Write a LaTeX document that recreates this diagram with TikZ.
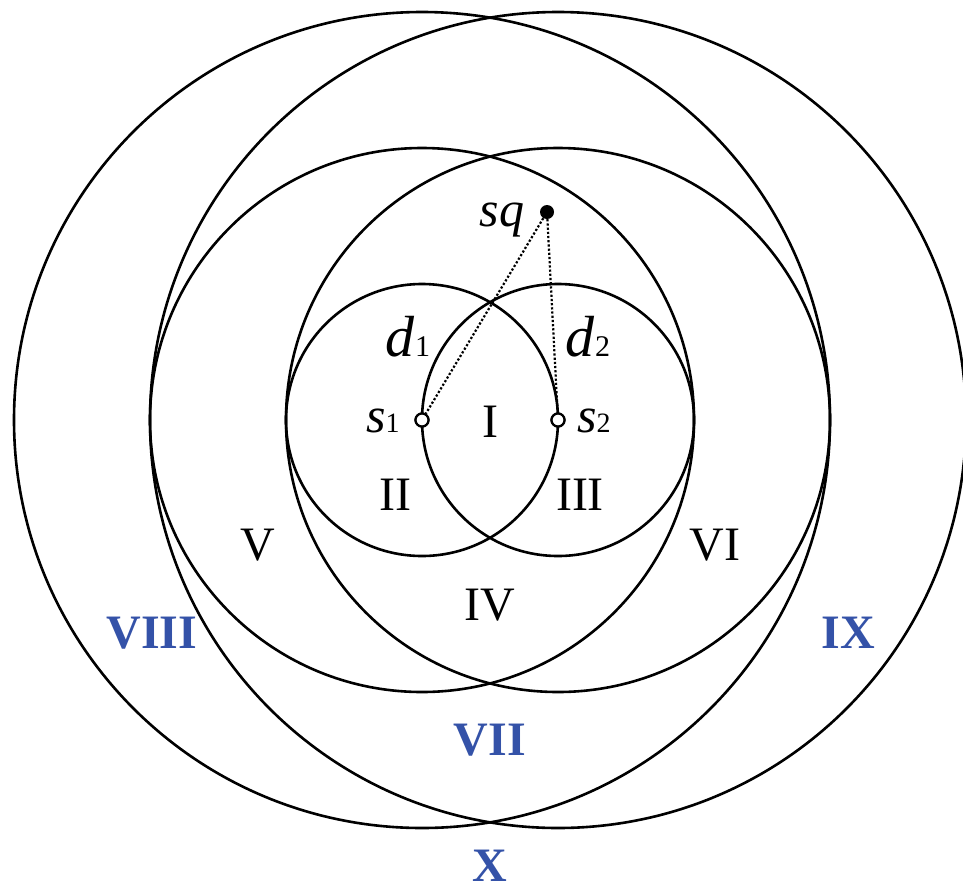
\documentclass[tikz,border=0pt]{standalone}
\usepackage{fontspec}
\setmainfont{Liberation Serif}
\definecolor{lblblue}{RGB}{52,82,168}
\begin{document}
\begin{tikzpicture}[x=1pt,y=-1pt,
  ring/.style={draw=black,line width=2.6pt},
  region/.style={font=\fontsize{48}{48}\selectfont,inner sep=0pt},
  outerregion/.style={font=\fontsize{48}{48}\selectfont\bfseries,text=lblblue,inner sep=0pt},
  sym/.style={font=\fontsize{50}{50}\selectfont,inner sep=0pt},
  dsym/.style={font=\fontsize{58}{58}\selectfont,inner sep=0pt},
  hollow/.style={circle,draw=black,fill=white,line width=2.2pt,inner sep=0pt,minimum size=13pt},
  solid dot/.style={circle,fill=black,inner sep=0pt,minimum size=14pt},
  link/.style={dotted,line width=2.2pt}]
\useasboundingbox (0,0) rectangle (963,892);
\coordinate (c1) at (422,420);
\coordinate (c2) at (558,420);
\foreach \r in {136,272,408}{
  \draw[ring] (c1) circle[radius=\r];
  \draw[ring] (c2) circle[radius=\r];
}
\node[solid dot] (sq) at (547,212) {};
\node[hollow] (s1) at (c1) {};
\node[hollow] (s2) at (c2) {};
\draw[link] (sq) -- (s1);
\draw[link] (sq) -- (s2);
\node[hollow] at (c1) {};
\node[hollow] at (c2) {};
% labels
\node[sym,anchor=base] (lsq) at (502,226) {\textit{s}\textit{q}};
\node[sym,anchor=base] (ls1) at (383,432) {\textit{s}\fontsize{28}{28}\selectfont 1};
\node[sym,anchor=base] (ls2) at (594,432) {\textit{s}\fontsize{28}{28}\selectfont 2};
\node[dsym,anchor=base] (ld1) at (408,356) {\textit{d}\fontsize{30}{30}\selectfont 1};
\node[dsym,anchor=base] (ld2) at (588,356) {\textit{d}\fontsize{30}{30}\selectfont 2};
\node[region] (rI) at (490,422) {I};
\node[region] (rII) at (395,495) {II};
\node[region] (rIII) at (580,495) {III};
\node[region] (rIV) at (490,605) {IV};
\node[region] (rV) at (258,545) {V};
\node[region] (rVI) at (715,545) {VI};
\node[outerregion] (rVII) at (490,740) {VII};
\node[outerregion] (rVIII) at (152,633) {VIII};
\node[outerregion] (rIX) at (848,633) {IX};
\node[outerregion] (rX) at (490,866) {X};
\end{tikzpicture}
\end{document}
